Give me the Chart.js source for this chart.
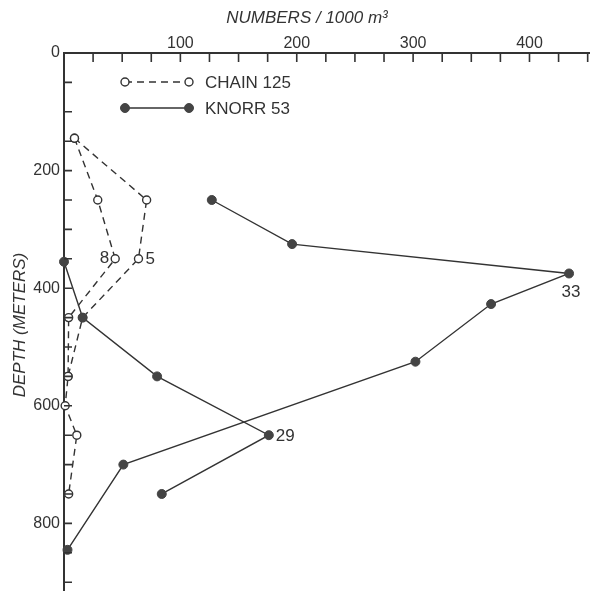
<!DOCTYPE html>
<html>
<head>
<meta charset="utf-8">
<script src="https://cdn.jsdelivr.net/npm/chart.js@4"></script>
<style>
  html, body { margin: 0; padding: 0; background: #fff; }
  #wrap { width: 590px; height: 591px; }
</style>
</head>
<body>
<div id="wrap"><canvas id="depthChart" width="590" height="591"></canvas></div>
<script>
// Knorr 53, station 33 (depth in m, numbers per 1000 m3)
const knorr33Depth = [250, 325, 375, 427, 525, 700, 845];
const knorr33Count = [127, 196, 434, 367, 302, 51, 3];

// Knorr 53, station 29
const knorr29Depth = [355, 450, 550, 650, 750];
const knorr29Count = [0, 16, 80, 176, 84];

// Chain 125, station 8
const chain8Depth = [145, 250, 350, 450, 550, 600, 650, 750];
const chain8Count = [9, 29, 44, 4, 3.5, 1, 11, 4];

// Chain 125, station 5
const chain5Depth = [145, 250, 350, 450, 550];
const chain5Count = [9, 71, 64, 16, 3.5];

// tick labels
const xTickLabels = [100, 200, 300, 400];
const yTickLabels = [0, 200, 400, 600, 800];

// station numbers written next to a point
const stationNotes = [
    { set: 2, point: 2, text: '8' },
    { set: 3, point: 2, text: '5' },
    { set: 0, point: 2, text: '33' },
    { set: 1, point: 3, text: '29' }
];

const INK = '#333';
const FONT = '"Liberation Sans", Arial, sans-serif';

function toPoints(depths, counts) {
    return depths.map((d, i) => ({ x: counts[i], y: d }));
}

const knorrStyle = {
    showLine: true,
    borderColor: INK,
    borderWidth: 1.4,
    pointRadius: 4.5,
    pointBackgroundColor: '#444',
    pointBorderColor: '#444',
    pointBorderWidth: 1,
    clip: false
};

const chainStyle = {
    showLine: true,
    borderColor: INK,
    borderWidth: 1.4,
    borderDash: [7, 5],
    pointRadius: 4,
    pointBackgroundColor: '#fff',
    pointBorderColor: INK,
    pointBorderWidth: 1.4,
    clip: false
};

// inward tick marks, legend, titles and station numbers
const decorations = {
    id: 'decorations',
    afterDraw(chart) {
        const ctx = chart.ctx;
        const area = chart.chartArea;
        const xs = chart.scales.x;
        const ys = chart.scales.y;
        ctx.save();
        ctx.strokeStyle = INK;
        ctx.lineWidth = 1.6;
        ctx.beginPath();
        xs.ticks.forEach(t => {
            if (t.value === 0) return;
            const px = xs.getPixelForValue(t.value);
            ctx.moveTo(px, area.top);
            ctx.lineTo(px, area.top + 9);
        });
        ys.ticks.forEach(t => {
            if (t.value === 0) return;
            const py = ys.getPixelForValue(t.value);
            ctx.moveTo(area.left, py);
            ctx.lineTo(area.left + 8, py);
        });
        ctx.stroke();

        // legend
        const rows = [
            { text: 'CHAIN 125', style: chainStyle, y: 82 },
            { text: 'KNORR 53', style: knorrStyle, y: 108 }
        ];
        rows.forEach(r => {
            ctx.setLineDash(r.style.borderDash || []);
            ctx.lineWidth = r.style.borderWidth;
            ctx.strokeStyle = INK;
            ctx.beginPath();
            ctx.moveTo(125, r.y);
            ctx.lineTo(189, r.y);
            ctx.stroke();
            ctx.setLineDash([]);
            [125, 189].forEach(cx => {
                ctx.beginPath();
                ctx.arc(cx, r.y, r.style.pointRadius, 0, Math.PI * 2);
                ctx.fillStyle = r.style.pointBackgroundColor;
                ctx.fill();
                ctx.lineWidth = r.style.pointBorderWidth;
                ctx.strokeStyle = r.style.pointBorderColor;
                ctx.stroke();
            });
            ctx.fillStyle = INK;
            ctx.font = '17px ' + FONT;
            ctx.textAlign = 'left';
            ctx.textBaseline = 'middle';
            ctx.fillText(r.text, 205, r.y + 1);
        });

        // station numbers
        ctx.font = '17px ' + FONT;
        ctx.fillStyle = INK;
        ctx.textBaseline = 'middle';
        stationNotes.forEach(n => {
            const el = chart.getDatasetMeta(n.set).data[n.point];
            if (n.text === '8') {
                ctx.textAlign = 'right';
                ctx.fillText(n.text, el.x - 6, el.y);
            } else if (n.text === '33') {
                ctx.textAlign = 'center';
                ctx.fillText(n.text, el.x + 2, el.y + 19);
            } else {
                ctx.textAlign = 'left';
                ctx.fillText(n.text, el.x + 7, el.y + 1);
            }
        });

        // axis titles
        ctx.font = 'italic 17px ' + FONT;
        ctx.textAlign = 'center';
        ctx.textBaseline = 'middle';
        ctx.fillText('NUMBERS / 1000 m\u00B3', 307, 18);
        ctx.translate(20, 325);
        ctx.rotate(-Math.PI / 2);
        ctx.fillText('DEPTH (METERS)', 0, 0);
        ctx.restore();
    }
};

new Chart(document.getElementById('depthChart').getContext('2d'), {
    type: 'scatter',
    data: {
        datasets: [
            Object.assign({ label: 'KNORR 53 (33)', data: toPoints(knorr33Depth, knorr33Count) }, knorrStyle),
            Object.assign({ label: 'KNORR 53 (29)', data: toPoints(knorr29Depth, knorr29Count) }, knorrStyle),
            Object.assign({ label: 'CHAIN 125 (8)', data: toPoints(chain8Depth, chain8Count) }, chainStyle),
            Object.assign({ label: 'CHAIN 125 (5)', data: toPoints(chain5Depth, chain5Count) }, chainStyle)
        ]
    },
    options: {
        responsive: false,
        animation: false,
        layout: { padding: 0, autoPadding: false },
        plugins: {
            legend: { display: false },
            tooltip: { enabled: false }
        },
        scales: {
            x: {
                type: 'linear',
                position: 'top',
                min: 0,
                max: 452,
                afterFit(scale) {
                    scale.height = 53;
                    scale.paddingLeft = 0;
                    scale.paddingRight = 0;
                },
                afterBuildTicks(scale) {
                    scale.ticks = [];
                    for (let v = 0; v <= 450; v += 25) scale.ticks.push({ value: v });
                },
                ticks: {
                    color: INK,
                    font: { family: FONT, size: 16 },
                    padding: 0,
                    maxRotation: 0,
                    autoSkip: false,
                    callback: v => xTickLabels.includes(v) ? String(v) : ''
                },
                grid: { display: true, drawOnChartArea: false, drawTicks: false },
                border: { display: true, color: INK, width: 2 }
            },
            y: {
                type: 'linear',
                position: 'left',
                reverse: true,
                min: 0,
                max: 915,
                afterFit(scale) {
                    scale.width = 64;
                    scale.paddingTop = 0;
                    scale.paddingBottom = 0;
                },
                afterBuildTicks(scale) {
                    scale.ticks = [];
                    for (let v = 0; v <= 900; v += 50) scale.ticks.push({ value: v });
                },
                ticks: {
                    color: INK,
                    font: { family: FONT, size: 16 },
                    padding: 4,
                    autoSkip: false,
                    callback: v => yTickLabels.includes(v) ? String(v) : ''
                },
                grid: { display: true, drawOnChartArea: false, drawTicks: false },
                border: { display: true, color: INK, width: 2 }
            }
        }
    },
    plugins: [decorations]
});
</script>
</body>
</html>
